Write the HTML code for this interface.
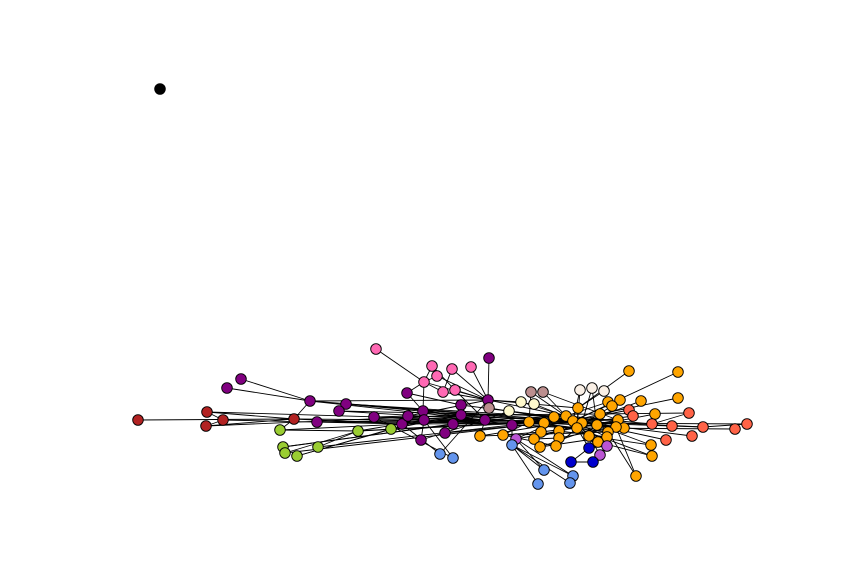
<!DOCTYPE html>
<html><head><meta charset="utf-8"><style>html,body{margin:0;padding:0;background:#fff}svg{display:block}</style></head>
<body>
<svg id="chart" width="864" height="576" viewBox="0 0 864 576">
<g id="edges"></g>
<g id="nodes"></g>
</svg>
<script>
const nodeX = [160,138,207,206,223,294,241,227,310,346,339,317,374,402,408,423,424,407,421,489,488,461,461,453,485,512,445,280,358,391,283,285,318,297,376,432,437,424,452,471,443,455,531,543,489,521,534,509,580,592,604,629,678,678,641,620,608,612,578,600,655,566,573,554,582,544,529,618,597,624,616,577,559,541,608,559,589,607,503,480,534,598,540,556,651,652,636,629,633,689,652,672,703,747,735,692,666,516,607,600,589,571,593,512,440,453,544,573,538,570];
const nodeY = [89,420,412,426,420,419,379,388,401,404,411,422,417,424,416,411,420,393,440,358,400,405,415,424,420,425,433,430,431,429,447,453,447,456,349,366,376,382,369,367,392,390,392,392,408,402,404,411,390,388,391,371,372,398,401,400,402,406,408,414,414,416,421,417,423,423,422,420,425,428,427,428,431,432,432,438,436,437,435,436,439,442,447,446,445,456,476,410,416,413,424,426,427,424,429,436,440,439,446,455,448,462,462,445,454,458,470,476,484,483];
const groups = ["black","red","red","red","red","red","purple","purple","purple","purple","purple","purple","purple","purple","purple","purple","purple","purple","purple","purple","purple","purple","purple","purple","purple","purple","purple","green","green","green","green","green","green","green","pink","pink","pink","pink","pink","pink","pink","pink","rosy","rosy","rosy","lemon","lemon","lemon","linen","linen","linen","orange","orange","orange","orange","orange","orange","orange","orange","orange","orange","orange","orange","orange","orange","orange","orange","orange","orange","orange","orange","orange","orange","orange","orange","orange","orange","orange","orange","orange","orange","orange","orange","orange","orange","orange","orange","tomato","tomato","tomato","tomato","tomato","tomato","tomato","tomato","tomato","tomato","orchid","orchid","orchid","blue","blue","blue","corn","corn","corn","corn","corn","corn","corn"];
const palette = {black:"#000000",red:"#b22222",purple:"#800080",green:"#9acd32",pink:"#ff69b4",rosy:"#bc8f8f",lemon:"#fffacd",linen:"#faf0e6",orange:"#ffa500",tomato:"#ff6347",orchid:"#ba55d3",blue:"#0000cd",corn:"#6495ed"};
const edgeFrom = [1,2,3,2,3,4,5,5,2,3,6,7,8,8,8,8,9,9,10,10,11,11,12,12,12,27,27,27,28,28,28,29,29,30,30,31,31,32,32,33,33,34,35,35,36,37,37,36,38,38,39,40,41,41,37,35,19,17,17,17,18,18,13,14,15,16,21,22,23,24,25,26,26,20,20,44,44,42,43,42,43,45,46,47,45,47,48,49,50,48,49,51,52,53,54,55,56,57,60,86,86,84,85,85,84,87,88,89,90,91,92,93,94,95,96,89,93,92,97,97,98,99,98,100,101,101,102,100,103,103,104,105,104,106,107,108,109,106,107,105,58,59,61,62,63,64,65,66,67,68,69,70,71,72,73,74,75,76,77,78,79,80,81,82,83,78,79,64,62,61,16,13,12,11,9,14,15,22];
const edgeTo = [5,4,4,5,5,13,13,16,24,22,8,8,5,24,20,62,22,63,24,61,16,65,14,64,24,5,28,24,29,16,62,22,66,24,23,28,65,28,25,29,16,37,37,36,37,40,20,20,40,20,20,20,20,24,15,41,20,37,21,15,16,24,24,20,25,62,63,64,62,61,71,23,65,61,58,20,64,62,61,66,67,61,64,63,20,24,62,64,58,71,68,58,62,59,64,62,61,71,68,70,74,76,71,81,68,62,64,59,61,64,62,64,71,62,68,90,92,91,61,72,100,76,64,71,102,100,98,59,97,25,13,16,20,103,103,103,103,97,97,12,71,62,64,67,68,69,70,71,72,73,74,75,76,77,78,79,80,81,82,83,62,64,61,67,71,66,24,74,77,68,62,64,71,62,64,67,74,59];

const NS = "http://www.w3.org/2000/svg";
const eg = document.getElementById("edges");
for (let k = 0; k < edgeFrom.length; k++) {
  const a = edgeFrom[k], b = edgeTo[k];
  const l = document.createElementNS(NS, "line");
  l.setAttribute("x1", nodeX[a]); l.setAttribute("y1", nodeY[a]);
  l.setAttribute("x2", nodeX[b]); l.setAttribute("y2", nodeY[b]);
  l.setAttribute("stroke", "#000"); l.setAttribute("stroke-width", "0.9");
  
  
  eg.appendChild(l);
}
const ng = document.getElementById("nodes");
for (let i = 0; i < nodeX.length; i++) {
  const c = document.createElementNS(NS, "circle");
  c.setAttribute("cx", nodeX[i]); c.setAttribute("cy", nodeY[i]);
  c.setAttribute("r", "5.3");
  c.setAttribute("fill", palette[groups[i]]);
  c.setAttribute("stroke", "#000"); c.setAttribute("stroke-width", "0.9");
  
  
  ng.appendChild(c);
}
</script>
</body></html>
